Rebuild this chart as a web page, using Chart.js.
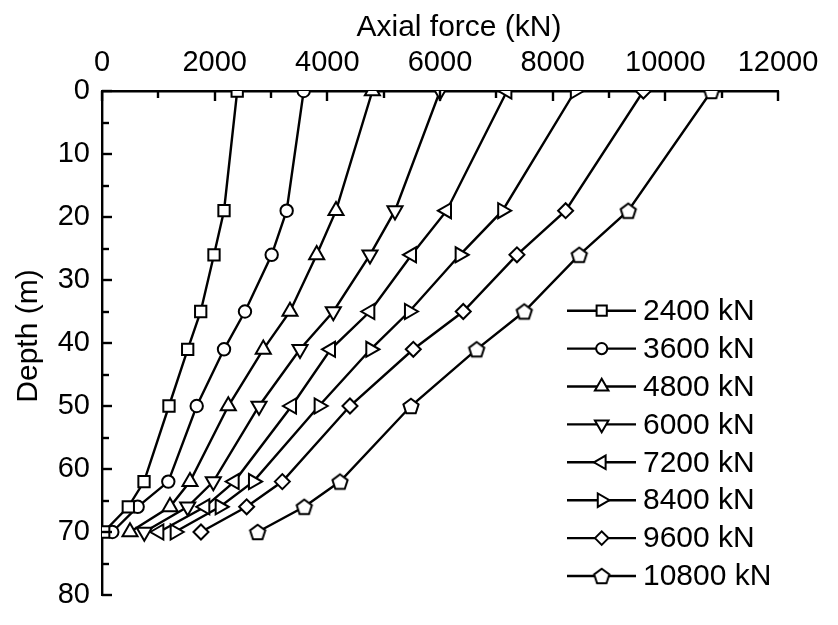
<!DOCTYPE html>
<html>
<head>
<meta charset="utf-8">
<title>Axial force along the pile</title>
<script src="https://cdn.jsdelivr.net/npm/chart.js@4.4.1/dist/chart.umd.min.js"></script>
<style>
  html, body { margin: 0; padding: 0; background: #fff; }
  #wrap { position: relative; width: 838px; height: 625px; }
</style>
</head>
<body>
<div id="wrap"><canvas id="forceChart"></canvas></div>
<script>
// ── data ──
const depths = [0, 19, 26, 35, 41, 50, 62, 66, 70];
const loadLabels = ['2400 kN', '3600 kN', '4800 kN', '6000 kN', '7200 kN', '8400 kN', '9600 kN', '10800 kN'];

const force2400  = [2400, 2166, 1988, 1752, 1521, 1189, 746, 467, 30];
const force3600  = [3580, 3278, 3012, 2538, 2166, 1681, 1177, 633, 183];
const force4800  = [4800, 4154, 3811, 3337, 2863, 2242, 1562, 1207, 497];
const force6000  = [6000, 5201, 4757, 4106, 3515, 2787, 1976, 1521, 751];
const force7200  = [7190, 6118, 5497, 4757, 4059, 3367, 2349, 1828, 1012];
const force8400  = [8400, 7110, 6355, 5455, 4769, 3852, 2686, 2095, 1296];
const force9600  = [9610, 8230, 7366, 6413, 5526, 4402, 3201, 2568, 1757];
const force10800 = [10820, 9342, 8472, 7496, 6651, 5485, 4225, 3591, 2763];

const xTickValues = [0, 2000, 4000, 6000, 8000, 10000, 12000];
const yTickValues = [0, 10, 20, 30, 40, 50, 60, 70, 80];

const FONT = '"Liberation Sans", Arial, sans-serif';

// pentagon marker (chart.js has no built-in one)
function makePentagon(R, lw) {
  const size = Math.ceil(2 * R + lw * 2 + 2);
  const c = document.createElement('canvas');
  c.width = size; c.height = size;
  const g = c.getContext('2d');
  const cx = size / 2, cy = size / 2 + R * 0.1;
  g.beginPath();
  for (let i = 0; i < 5; i++) {
    const a = -Math.PI / 2 + i * 2 * Math.PI / 5;
    const px = cx + R * Math.cos(a), py = cy + R * Math.sin(a);
    i ? g.lineTo(px, py) : g.moveTo(px, py);
  }
  g.closePath();
  g.fillStyle = '#fff'; g.fill();
  g.strokeStyle = '#000'; g.lineWidth = lw; g.stroke();
  return c;
}

const markers = [
  { pointStyle: 'rect',     rotation: 0,   radius: 8 },
  { pointStyle: 'circle',   rotation: 0,   radius: 6.2 },
  { pointStyle: 'triangle', rotation: 0,   radius: 8.7 },
  { pointStyle: 'triangle', rotation: 180, radius: 8.7 },
  { pointStyle: 'triangle', rotation: 270, radius: 8.7 },
  { pointStyle: 'triangle', rotation: 90,  radius: 8.7 },
  { pointStyle: 'rectRot',  rotation: 0,   radius: 7.5 },
  { pointStyle: makePentagon(8, 2), rotation: 0, radius: 8 }
];

const seriesValues = [force2400, force3600, force4800, force6000, force7200, force8400, force9600, force10800];

const datasets = seriesValues.map((vals, i) => ({
  label: loadLabels[i],
  data: vals.map((v, k) => ({ x: v, y: depths[k] })),
  showLine: true,
  borderColor: '#000',
  borderWidth: 2.4,
  pointStyle: markers[i].pointStyle,
  rotation: markers[i].rotation,
  pointRadius: markers[i].radius,
  pointBackgroundColor: '#fff',
  pointBorderColor: '#000',
  pointBorderWidth: 2,
  clip: 0
}));

// ── inward ticks, axis titles and legend ──
const decorPlugin = {
  id: 'decor',
  afterDraw(chart) {
    const ctx = chart.ctx;
    const xs = chart.scales.x, ys = chart.scales.y;
    const area = chart.chartArea;
    ctx.save();
    ctx.strokeStyle = '#000';
    ctx.lineWidth = 2.4;

    // top axis ticks pointing down
    for (let v = 0; v <= 12000; v += 1000) {
      const px = Math.round(xs.getPixelForValue(v));
      const len = v % 2000 === 0 ? 10 : 7;
      ctx.beginPath();
      ctx.moveTo(px, area.top);
      ctx.lineTo(px, area.top + len);
      ctx.stroke();
    }
    // left axis ticks pointing right
    for (let v = 0; v <= 80; v += 5) {
      const py = Math.round(ys.getPixelForValue(v));
      const len = v % 10 === 0 ? 10 : 7;
      ctx.beginPath();
      ctx.moveTo(area.left, py);
      ctx.lineTo(area.left + len, py);
      ctx.stroke();
    }

    // axis titles
    ctx.fillStyle = '#000';
    ctx.font = '30px ' + FONT;
    ctx.textAlign = 'center';
    ctx.textBaseline = 'middle';
    ctx.fillText('Axial force (kN)', 459, 28);
    ctx.save();
    ctx.translate(29, 336);
    ctx.rotate(-Math.PI / 2);
    ctx.fillText('Depth (m)', 0, 0);
    ctx.restore();

    // legend
    const rowY0 = 310.7, rowGap = 37.9;
    ctx.textAlign = 'left';
    ctx.font = '30px ' + FONT;
    chart.data.datasets.forEach((ds, i) => {
      const y = rowY0 + i * rowGap;
      ctx.lineWidth = 2.4;
      ctx.strokeStyle = '#000';
      ctx.beginPath();
      ctx.moveTo(567, y);
      ctx.lineTo(636, y);
      ctx.stroke();
      ctx.fillStyle = '#fff';
      ctx.lineWidth = 2;
      Chart.helpers.drawPoint(ctx, {
        pointStyle: ds.pointStyle,
        rotation: ds.rotation,
        radius: ds.pointRadius * 0.9,
        borderWidth: 2
      }, 601.7, y);
      ctx.fillStyle = '#000';
      ctx.fillText(ds.label, 643, y + 1);
    });
    ctx.restore();
  }
};

new Chart(document.getElementById('forceChart'), {
  type: 'scatter',
  data: { datasets },
  options: {
    responsive: true,
    maintainAspectRatio: false,
    animation: false,
    layout: { padding: { left: 0, top: 0, right: 60, bottom: 30 } },
    plugins: {
      legend: { display: false },
      tooltip: { enabled: false }
    },
    scales: {
      x: {
        type: 'linear',
        position: 'top',
        min: 0,
        max: 12000,
        afterBuildTicks: s => { s.ticks = xTickValues.map(v => ({ value: v })); },
        afterFit: s => { s.height = 91; },
        grid: { display: false, drawTicks: false },
        border: { display: true, color: '#000', width: 2.4 },
        ticks: {
          color: '#000',
          font: { family: FONT, size: 29 },
          padding: 11,
          maxRotation: 0,
          callback: v => String(v)
        }
      },
      y: {
        type: 'linear',
        reverse: true,
        min: 0,
        max: 80,
        afterBuildTicks: s => { s.ticks = yTickValues.map(v => ({ value: v })); },
        afterFit: s => { s.width = 102; },
        grid: { display: false, drawTicks: false },
        border: { display: true, color: '#000', width: 2.4 },
        ticks: {
          color: '#000',
          font: { family: FONT, size: 29 },
          padding: 12,
          callback: v => String(v)
        }
      }
    }
  },
  plugins: [decorPlugin]
});
</script>
</body>
</html>
